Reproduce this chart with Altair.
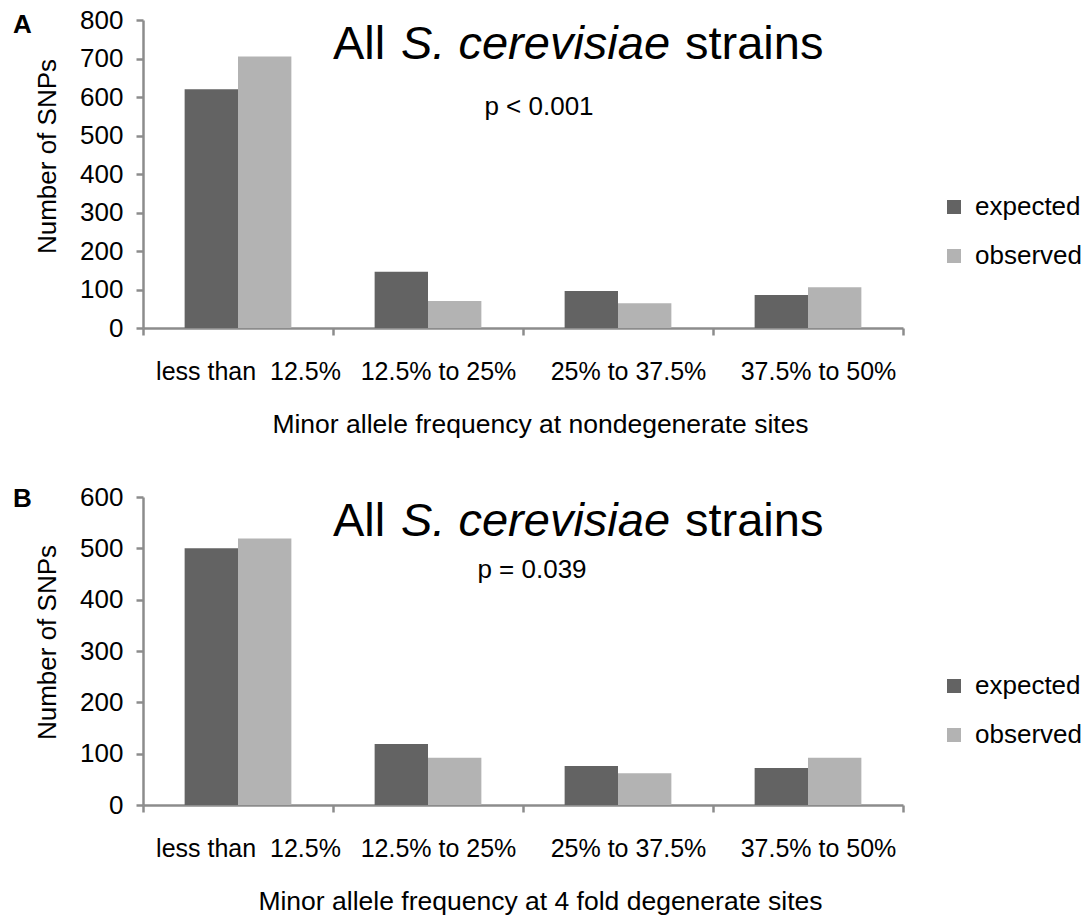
import altair as alt
import pandas as pd

# ---------------- data ----------------
categories = ["less than \u00a012.5%", "12.5% to 25%", "25% to 37.5%", "37.5% to 50%"]
series = ["expected", "observed"]
colors = ["#636363", "#b3b3b3"]

a_expected = [620, 146, 96, 86]
a_observed = [705, 70, 64, 106]
b_expected = [500, 119, 76, 72]
b_observed = [519, 92, 62, 92]

a_ticks = [0, 100, 200, 300, 400, 500, 600, 700, 800]
b_ticks = [0, 100, 200, 300, 400, 500, 600]

a_xtitle = "Minor allele frequency at nondegenerate sites"
b_xtitle = "Minor allele frequency at 4 fold degenerate sites"
ytitle = "Number of SNPs"
title_parts = ["All", "S. cerevisiae", "strains"]
a_pval = "p < 0.001"
b_pval = "p = 0.039"

FONT = "Liberation Sans"
AXIS_GRAY = "#8c8c8c"
W, H = 760, 308


def text_layer(txt, x, y, size, align="left", style="normal", weight="normal", baseline="alphabetic"):
    return alt.Chart(pd.DataFrame({"t": [txt]})).mark_text(
        align=align, baseline=baseline, font=FONT, fontSize=size,
        fontStyle=style, fontWeight=weight, color="black"
    ).encode(text="t:N", x=alt.value(x), y=alt.value(y))


def make_panel(expected, observed, ticks, xtitle, letter, pval, pval_x, pval_y, legend_y, ytitle_y):
    df = pd.DataFrame({
        "category": categories * 2,
        "series": [series[0]] * len(categories) + [series[1]] * len(categories),
        "count": expected + observed,
    })
    bars = alt.Chart(df).mark_bar().encode(
        x=alt.X(
            "category:N", sort=categories,
            scale=alt.Scale(paddingInner=0, paddingOuter=0),
            axis=alt.Axis(
                title=xtitle, labelAngle=0, tickBand="extent", labelLimit=400,
                domainColor=AXIS_GRAY, domainWidth=2.5, tickColor=AXIS_GRAY, tickWidth=2.5,
                tickSize=7, labelFont=FONT, labelFontSize=25, labelColor="black",
                labelPadding=24, labelOffset=10, titleFont=FONT, titleFontSize=26.5,
                titleFontWeight="normal", titleColor="black", titleBaseline="alphabetic",
                titleY=104, titleX=397,
            ),
        ),
        xOffset=alt.XOffset("series:N", sort=series,
                            scale=alt.Scale(paddingInner=0, paddingOuter=0.78)),
        y=alt.Y(
            "count:Q",
            scale=alt.Scale(domain=[0, ticks[-1]], nice=False, zero=True),
            axis=alt.Axis(
                values=ticks, title=ytitle, grid=False, format="d",
                domainColor=AXIS_GRAY, domainWidth=2.5, tickColor=AXIS_GRAY, tickWidth=2.5,
                tickSize=7, labelFont=FONT, labelFontSize=26, labelColor="black",
                labelPadding=13, titleFont=FONT, titleFontSize=26, titleFontWeight="normal",
                titleColor="black", titleBaseline="alphabetic", titleX=-88, titleY=ytitle_y,
            ),
        ),
        color=alt.Color(
            "series:N", sort=series,
            scale=alt.Scale(domain=series, range=colors),
            legend=alt.Legend(
                title=None, orient="none", legendX=798, legendY=legend_y,
                symbolType="square", symbolSize=196, symbolStrokeWidth=0,
                labelFont=FONT, labelFontSize=26, labelColor="black",
                labelOffset=8, rowPadding=23, padding=0,
            ),
        ),
    )
    layers = [
        bars,
        text_layer(title_parts[0], 190, 39, 47),
        text_layer(title_parts[1], 258, 39, 47, style="italic"),
        text_layer(title_parts[2], 542, 39, 47),
        text_layer(pval, pval_x, pval_y, 26, align="center"),
        text_layer(letter, -130, 13 if letter == "A" else 10, 26, weight="bold"),
    ]
    return alt.layer(*layers).properties(width=W, height=H)


panel_a = make_panel(a_expected, a_observed, a_ticks, a_xtitle, "A", a_pval, 396, 95, 174, 136)
panel_b = make_panel(b_expected, b_observed, b_ticks, b_xtitle, "B", b_pval, 389, 81, 176, 145)

chart = alt.vconcat(panel_a, panel_b, spacing=46).resolve_scale(color="independent").properties(
    padding={"left": 13, "top": 7, "right": 5, "bottom": 5}, background="white"
).configure_view(strokeWidth=0, stroke="transparent")

chart.save("out.html", embed_options={"renderer": "svg", "actions": False})
